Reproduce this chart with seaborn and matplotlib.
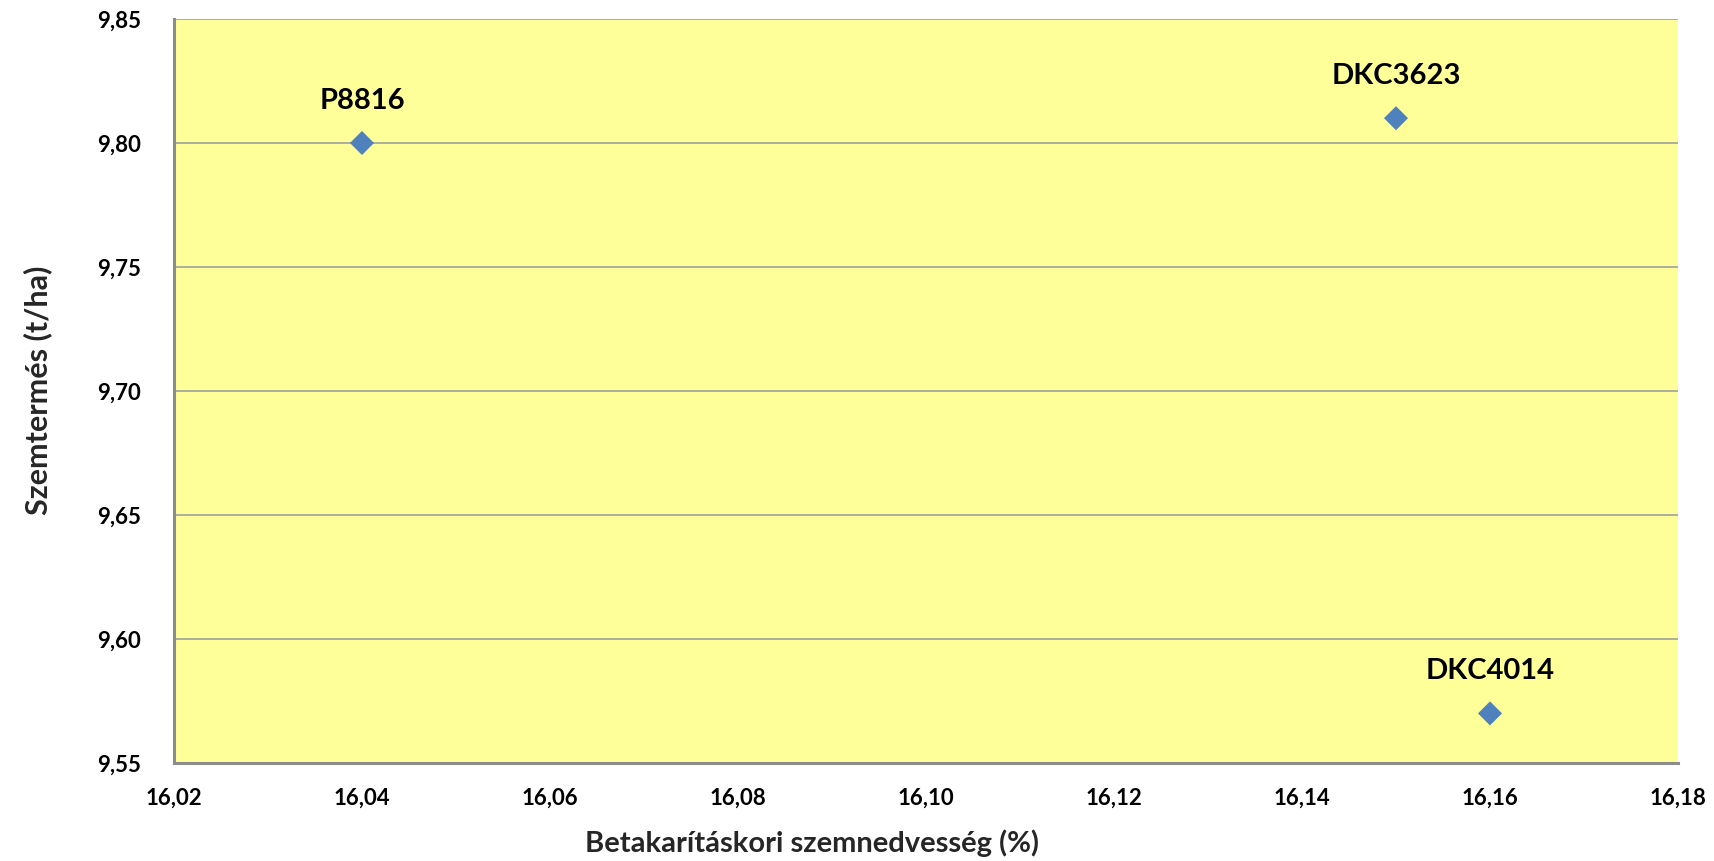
import pandas as pd
import seaborn as sns
import matplotlib.pyplot as plt
from matplotlib.ticker import FuncFormatter, MultipleLocator

# adatok
hibridek = ['P8816', 'DKC3623', 'DKC4014']
nedvesseg = [16.04, 16.15, 16.16]
termes = [9.80, 9.81, 9.57]

df = pd.DataFrame({'hibrid': hibridek, 'nedvesseg': nedvesseg, 'termes': termes})

sns.set_theme(style="white")
plt.rcParams['font.family'] = ['Lato', 'DejaVu Sans']
plt.rcParams['font.weight'] = 'bold'

fig = plt.figure(figsize=(17.15, 8.61), dpi=100)
ax = fig.add_axes([174 / 1715, 1 - 763 / 861, 1504 / 1715, 744 / 861])
ax.set_facecolor('#FFFF99')

sns.scatterplot(data=df, x='nedvesseg', y='termes', marker='D', s=150,
                color='#4F81BD', edgecolor='none', zorder=3, ax=ax)

for i in range(df.shape[0]):
    ax.annotate(df.hibrid[i], (df.nedvesseg[i], df.termes[i]),
                xytext=(0, 21), textcoords='offset points',
                ha='center', va='bottom', fontsize=21, fontweight='bold', color='black')

ax.set_xlim(16.02, 16.18)
ax.set_ylim(9.55, 9.85)
ax.xaxis.set_major_locator(MultipleLocator(0.02))
ax.yaxis.set_major_locator(MultipleLocator(0.05))
ax.xaxis.set_major_formatter(FuncFormatter(lambda v, p: f'{v:.2f}'.replace('.', ',')))
ax.yaxis.set_major_formatter(FuncFormatter(lambda v, p: f'{v:.2f}'.replace('.', ',')))

ax.grid(axis='y', color='#A0A0A0', linewidth=1.2)
ax.grid(axis='x', visible=False)
ax.set_axisbelow(True)

for side in ['top', 'right']:
    ax.spines[side].set_visible(False)
for side in ['left', 'bottom']:
    ax.spines[side].set_color('#8C8C8C')
    ax.spines[side].set_linewidth(2.2)

ax.tick_params(axis='both', direction='out', length=6, width=2, color='#8C8C8C',
               labelsize=16, labelcolor='black')
ax.tick_params(axis='y', pad=18)
ax.tick_params(axis='x', pad=12)
for lab in ax.get_xticklabels() + ax.get_yticklabels():
    lab.set_fontweight('bold')

ax.set_xlabel('Betakarításkori szemnedvesség (%)', fontsize=21, fontweight='bold', va='center')
ax.set_ylabel('Szemtermés (t/ha)', fontsize=22, fontweight='bold', va='center')
ax.xaxis.set_label_coords(0.424, -0.1075)
ax.yaxis.set_label_coords(-0.0904, 0.501)

fig.savefig('out.png', dpi=100, facecolor='white')
